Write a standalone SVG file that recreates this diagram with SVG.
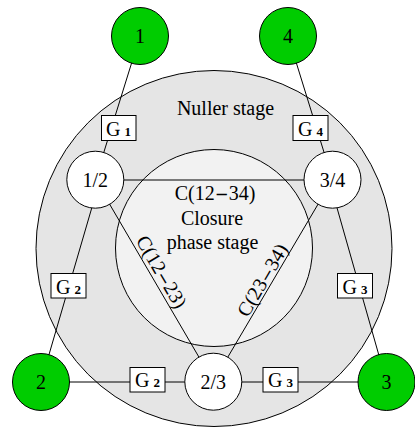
<svg xmlns="http://www.w3.org/2000/svg" width="415" height="428" viewBox="0 0 415 428">
<style>
text{font-family:"Liberation Serif","Times New Roman",serif;font-size:20px;fill:#000}
.lbl{text-anchor:middle}
.sub{font-size:13px;font-weight:bold}
.dash{font-weight:bold}
.stage{stroke:#000;stroke-width:1}
.edge{stroke:#000;stroke-width:1;fill:none}
.green{fill:#00cc00;stroke:#000;stroke-width:1}
.white{fill:#fff;stroke:#000;stroke-width:1}
.box{fill:#fff;stroke:#000;stroke-width:1}
</style>
<rect width="415" height="428" fill="#fff"/>
<g id="nuller-stage">
<circle class="stage" cx="214" cy="248.5" r="178" fill="#e5e5e5"/>
</g>
<g id="closure-stage">
<circle class="stage" cx="214" cy="248" r="98.5" fill="#f2f2f2"/>
</g>
<g id="connectors">
<line class="edge" x1="140" y1="36" x2="95.3" y2="179.7"/>
<line class="edge" x1="288" y1="36" x2="332.5" y2="179.7"/>
<line class="edge" x1="100" y1="179.7" x2="41" y2="382"/>
<line class="edge" x1="329" y1="179.7" x2="386.5" y2="382"/>
<line class="edge" x1="95.3" y1="180" x2="332.5" y2="180"/>
<line class="edge" x1="41" y1="382" x2="387" y2="382"/>
<line class="edge" x1="95.3" y1="179.7" x2="213.3" y2="381.7"/>
<line class="edge" x1="332.5" y1="179.7" x2="213.3" y2="381.7"/>
</g>
<g id="stage-labels">
<text class="lbl" x="225.5" y="115">Nuller stage</text>
<text class="lbl" x="215" y="199.5">C(12<tspan class="dash" dx="2">–</tspan><tspan dx="2">34)</tspan></text>
<text class="lbl" x="212" y="224.5">Closure</text>
<text class="lbl" x="212.5" y="248.5">phase stage</text>
<text class="lbl" transform="translate(155.8,275.3) rotate(59.7)">C(12<tspan class="dash" dx="2">–</tspan><tspan dx="2">23)</tspan></text>
<text class="lbl" transform="translate(268.2,283.4) rotate(-59.45)">C(23<tspan class="dash" dx="2">–</tspan><tspan dx="2">34)</tspan></text>
</g>
<g id="g1"><rect class="box" x="101.5" y="115.5" width="34.5" height="25"/><text class="lbl" x="118.5" y="135.5">G<tspan class="sub" dx="4">1</tspan></text></g>
<g id="g4"><rect class="box" x="293" y="115.5" width="35" height="25"/><text class="lbl" x="310.5" y="135.5">G<tspan class="sub" dx="4">4</tspan></text></g>
<g id="g2-left"><rect class="box" x="51" y="273.5" width="35" height="24.5"/><text class="lbl" x="68.5" y="293.5">G<tspan class="sub" dx="4">2</tspan></text></g>
<g id="g3-right"><rect class="box" x="337.5" y="273.5" width="35" height="24.5"/><text class="lbl" x="355" y="293.5">G<tspan class="sub" dx="4">3</tspan></text></g>
<g id="g2-bottom"><rect class="box" x="130" y="367.5" width="35" height="24.5"/><text class="lbl" x="147.5" y="387">G<tspan class="sub" dx="4">2</tspan></text></g>
<g id="g3-bottom"><rect class="box" x="263" y="367.5" width="35" height="24.5"/><text class="lbl" x="280.5" y="387">G<tspan class="sub" dx="4">3</tspan></text></g>
<g id="node-1"><circle class="green" cx="140" cy="36" r="28.5"/><text class="lbl" x="140" y="43">1</text></g>
<g id="node-4"><circle class="green" cx="288" cy="36" r="28.5"/><text class="lbl" x="288" y="43">4</text></g>
<g id="node-2"><circle class="green" cx="41" cy="382" r="28.5"/><text class="lbl" x="41" y="389">2</text></g>
<g id="node-3"><circle class="green" cx="386.5" cy="382" r="28.5"/><text class="lbl" x="386.5" y="389">3</text></g>
<g id="node-12"><circle class="white" cx="95.3" cy="179.7" r="28.5"/><text class="lbl" x="95.3" y="186.5">1/2</text></g>
<g id="node-34"><circle class="white" cx="332.5" cy="179.7" r="28.5"/><text class="lbl" x="332.5" y="186.5">3/4</text></g>
<g id="node-23"><circle class="white" cx="213.3" cy="381.7" r="28.5"/><text class="lbl" x="213.3" y="388.5">2/3</text></g>
</svg>
